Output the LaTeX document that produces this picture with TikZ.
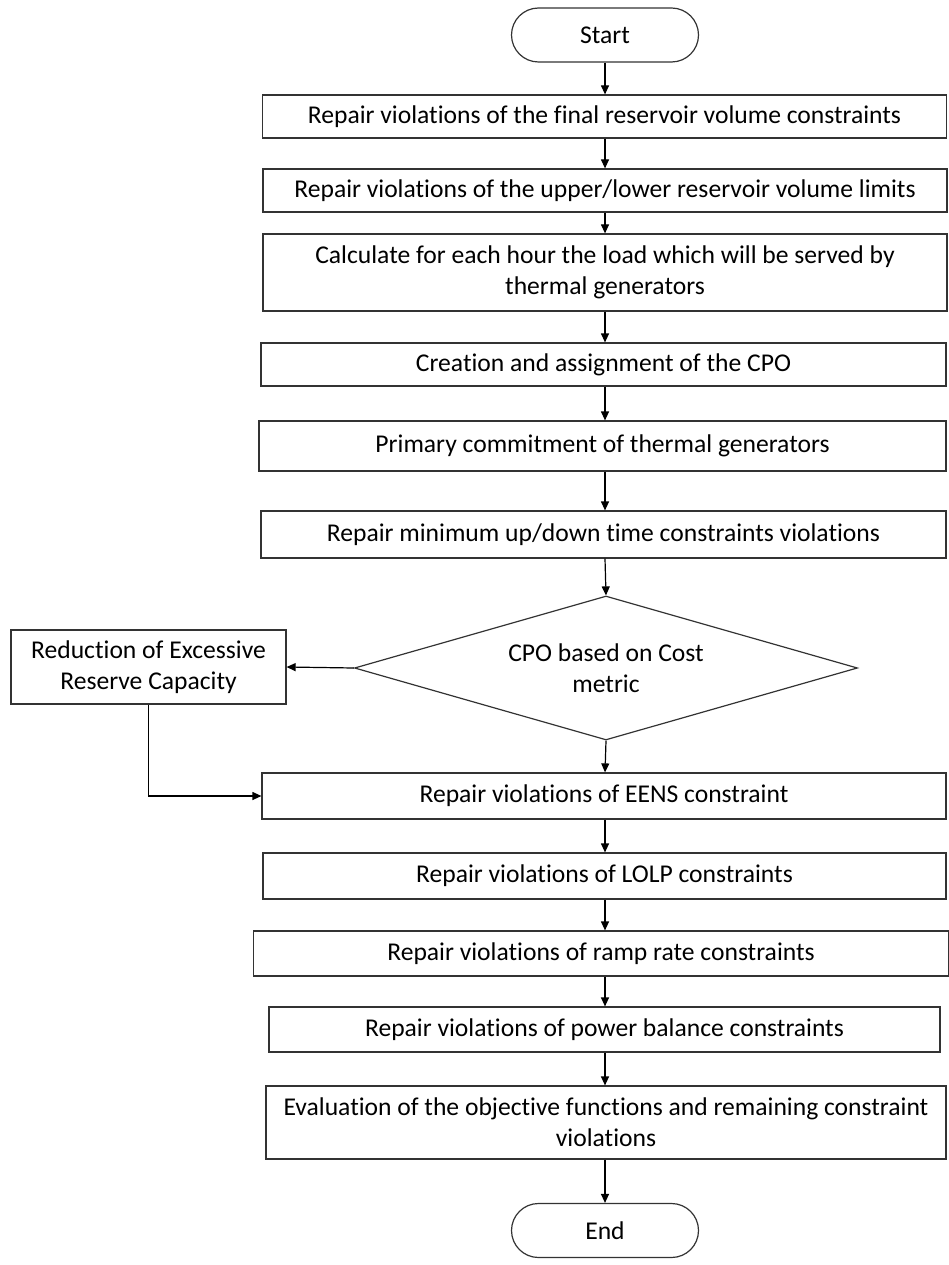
\documentclass[tikz,border=0pt]{standalone}
\usepackage{fontspec}
\setmainfont{Carlito}[Ligatures={NoCommon}]
\usetikzlibrary{shapes.geometric, arrows.meta}
\tikzstyle{terminal} = [rectangle, draw=black!80, line width=1.2pt, rounded corners=27pt, minimum width=187pt, minimum height=54pt, text centered]
\tikzstyle{process} = [rectangle, draw=black!80, line width=1.2pt, minimum width=684pt, minimum height=45pt, inner sep=0pt, align=center]
\tikzstyle{decision} = [diamond, draw=black!80, line width=1.2pt, aspect=3.5, minimum width=503pt, minimum height=144pt, inner sep=0pt, align=center]
\tikzstyle{arrow} = [line width=1.2pt, -{Triangle[length=9pt,width=8pt]}]

\begin{document}
\begin{tikzpicture}[x=1pt, y=-1pt, every node/.style={font=\fontsize{25.6}{31}\selectfont}]
    \useasboundingbox (0,0) rectangle (948,1265);
    \node (start) [terminal] at (605,35) {Start};
    \node (b1) [process, minimum height=43pt] at (604.5,116.5) {Repair violations of the final reservoir volume constraints};
    \node (b2) [process, minimum height=43pt] at (605,190.5) {Repair violations of the upper/lower reservoir volume limits};
    \node (b3) [process, minimum height=77pt] at (605,272.5) {Calculate for each hour the load which will be served by\\thermal generators};
    \node (b4) [process, minimum width=685pt, minimum height=43pt] at (603.5,364.5) {Creation and assignment of the CPO};
    \node (b5) [process, minimum width=687pt, minimum height=50pt] at (602.5,446) {Primary commitment of thermal generators};
    \node (b6) [process, minimum width=685pt, minimum height=47pt] at (603.5,534.5) {Repair minimum up/down time constraints violations};
    \node (cpo) [decision] at (606,668) {CPO based on Cost\\metric};
    \node (reduce) [process, minimum width=275pt, minimum height=74pt] at (148.5,667) {Reduction of Excessive\\Reserve Capacity};
    \node (b7) [process, minimum width=684pt, minimum height=46pt] at (604,796) {Repair violations of EENS constraint};
    \node (b8) [process, minimum width=683pt, minimum height=46pt] at (604.5,876) {Repair violations of LOLP constraints};
    \node (b9) [process, minimum width=695pt, minimum height=45pt] at (601,953.5) {Repair violations of ramp rate constraints};
    \node (b10) [process, minimum width=671pt, minimum height=45pt] at (604.5,1029.5) {Repair violations of power balance constraints};
    \node (b11) [process, minimum width=680pt, minimum height=73pt] at (606,1122.5) {Evaluation of the objective functions and remaining constraint\\violations};
    \node (end) [terminal] at (605,1230.5) {End};
    \draw [arrow] (start) -- (b1.north -| start);
    \draw [arrow] (b1.south -| start) -- (b2.north -| start);
    \draw [arrow] (b2.south -| start) -- (b3.north -| start);
    \draw [arrow] (b3.south -| start) -- (b4.north -| start);
    \draw [arrow] (b4.south -| start) -- (b5.north -| start);
    \draw [arrow] (b5.south -| start) -- (b6.north -| start);
    \draw [arrow] (b6.south -| start) -- (cpo.north);
    \draw [arrow] (cpo.west) -- (reduce.east);
    \draw [arrow] (cpo.south) -- (b7.north -| start);
    \draw [arrow] (reduce.south) |- (b7.west);
    \draw [arrow] (b7.south -| start) -- (b8.north -| start);
    \draw [arrow] (b8.south -| start) -- (b9.north -| start);
    \draw [arrow] (b9.south -| start) -- (b10.north -| start);
    \draw [arrow] (b10.south -| start) -- (b11.north -| start);
    \draw [arrow] (b11.south -| start) -- (end);
\end{tikzpicture}
\end{document}
